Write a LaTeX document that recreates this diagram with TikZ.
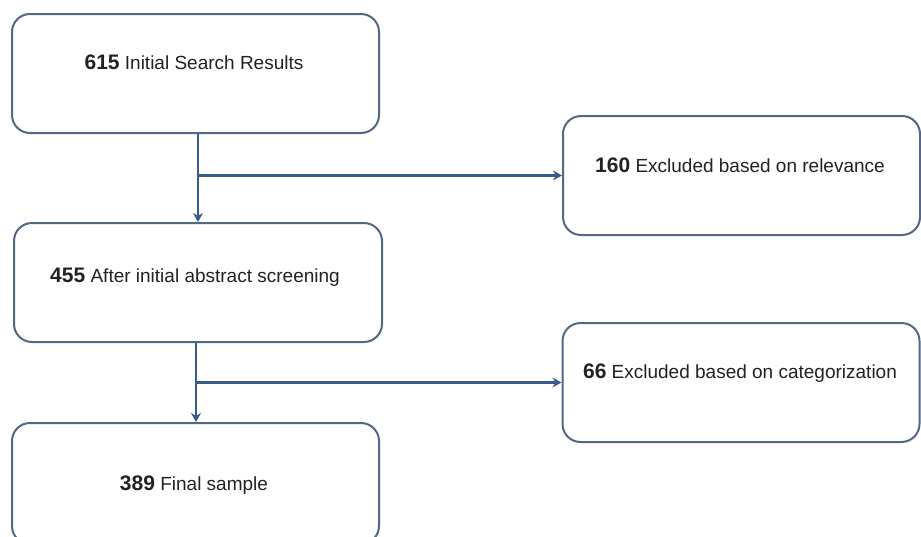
\documentclass[tikz,border=0pt]{standalone}
\usepackage{fontspec}
\setmainfont{Liberation Sans}
\usetikzlibrary{arrows.meta,calc}
\definecolor{boxc}{RGB}{84,104,132}
\definecolor{arrc}{RGB}{58,92,140}
\definecolor{txtc}{RGB}{34,34,34}
\newcommand{\num}[1]{{\fontsize{21}{24}\selectfont\bfseries #1}}
\begin{document}
\begin{tikzpicture}[x=1pt,y=-1pt,
  box/.style={draw=boxc,line width=2pt,rounded corners=18pt,fill=white,inner sep=0pt},
  lbl/.style={text=txtc,font=\fontsize{19}{22}\selectfont,inner sep=0pt,anchor=center},
  arr/.style={draw=arrc,line width=2.2pt,-{Stealth[length=9pt,width=10pt,inset=3pt]}}]
\fill[white] (0,0) rectangle (921,536);
\useasboundingbox (0,0) rectangle (921,536);
\node[box,minimum width=367pt,minimum height=119pt] (b1) at (195.5,73.5) {};
\node[box,minimum width=357pt,minimum height=119pt] (b2) at (741.5,175.5) {};
\node[box,minimum width=368pt,minimum height=119pt] (b3) at (198,282.5) {};
\node[box,minimum width=357pt,minimum height=119pt] (b4) at (741,382.5) {};
\node[box,minimum width=367pt,minimum height=121pt] (b5) at (195.5,483.5) {};
\node[lbl] (t1) at (194,62) {\num{615} Initial Search Results};
\node[lbl] (t2) at (740,165) {\num{160} Excluded based on relevance};
\node[lbl] (t3) at (195,277) {\num{455} After initial abstract screening};
\node[lbl] (t4) at (740,373) {\num{66} Excluded based on categorization};
\node[lbl] (t5) at (194,485) {\num{389} Final sample};
\coordinate (j1) at (198,175.5);
\coordinate (j2) at (196,382.5);
\draw[arr] (j1 |- b1.south) -- (j1 |- b3.north);
\draw[arr] (j1) -- (b2.west);
\draw[arr] (j2 |- b3.south) -- (j2 |- b5.north);
\draw[arr] (j2) -- (b4.west);
\end{tikzpicture}
\end{document}
